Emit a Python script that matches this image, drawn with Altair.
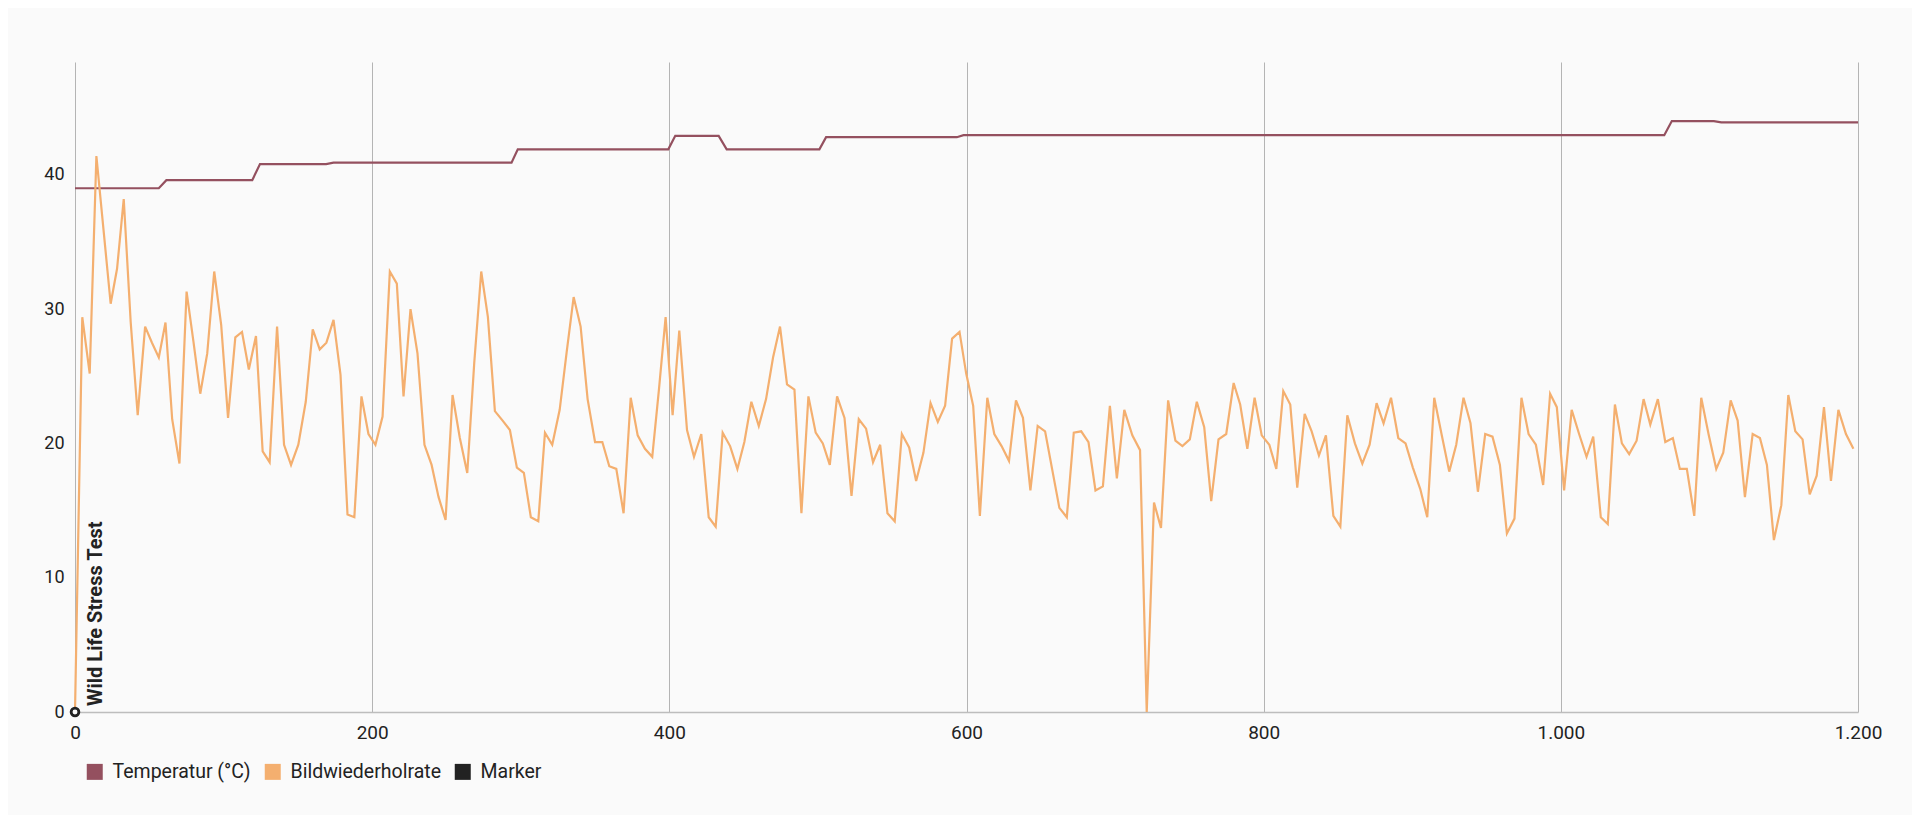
import altair as alt
import pandas as pd

# ---- data ----
fps_x = [0, 4.9, 9.9, 14.4, 19.2, 24.0, 28.3, 32.8, 37.5, 42.2, 47.2, 51.8, 56.4, 60.9, 65.4, 70.3, 75.1, 79.7,
         84.3, 89.0, 93.7, 98.4, 103.0, 107.9, 112.4, 117.0, 121.8, 126.3, 131.0, 136.0, 140.7, 145.4, 150.3,
         155.3, 160.0, 164.7, 169.2, 174.0, 178.7, 183.4, 188.0, 192.8, 197.5, 202.2,
         207.0, 211.9, 216.6, 221.1, 225.8, 230.5, 235.2, 240.0, 244.7, 249.4, 254.1, 259.0, 264.0, 268.7,
         273.4, 277.9, 282.6, 287.8, 292.7, 297.4, 302.1, 306.8, 311.8, 316.3, 321.2, 326.2, 330.9, 335.6,
         340.3, 345.0, 350.0, 354.9, 359.6, 364.3, 369.2, 374.0, 378.7, 383.6, 388.5, 393.0, 397.5, 402.2, 406.7,
         411.9, 416.6, 421.5, 426.5, 431.2, 435.9, 440.9, 445.8, 450.5, 455.2, 460.2, 465.1, 469.8, 474.5,
         479.2, 484.2, 488.9, 493.6, 498.5, 503.3, 508.0, 512.9, 517.9, 522.6, 527.5, 532.4, 537.1, 541.9,
         546.8, 551.7, 556.5, 561.4, 566.1, 571.0, 575.8, 580.7, 585.6, 590.3, 595.3, 599.8, 604.5, 609.0,
         614.0, 618.7, 623.6, 628.6, 633.3, 638.0, 643.0, 647.9, 652.9, 657.6, 662.5, 667.5, 672.2, 677.2,
         682.1, 686.8, 691.8, 696.5, 701.2, 706.2, 711.6, 716.8, 721.3, 726.2, 730.9, 735.7, 740.6, 745.3,
         750.3, 755.0, 760.0, 764.7, 769.6, 774.8, 779.8, 784.2, 789.0, 793.9, 798.7, 803.8, 808.5,
         813.2, 817.9, 822.6, 827.6, 832.3, 837.2, 841.9, 846.9, 851.6, 856.3, 861.4, 866.4, 871.3, 876.0,
         880.7, 885.7, 890.6, 895.5, 900.4, 905.4, 910.1, 914.8, 919.7, 924.9, 929.6, 934.5, 939.2, 944.2,
         949.1, 954.0, 959.0, 963.7, 968.8, 973.5, 978.3, 983.2, 988.1, 992.8, 997.3, 1002.2,
         1007.3, 1012.3, 1017.3, 1021.8, 1026.9, 1031.6, 1036.4, 1041.1, 1046.0, 1051.0, 1055.7, 1060.2,
         1065.3, 1070.3, 1075.4, 1080.1, 1084.8, 1089.8, 1094.5, 1099.4, 1104.6, 1109.3, 1114.3, 1119.0,
         1123.9, 1129.1, 1134.0, 1138.7, 1143.4, 1148.4, 1153.1, 1157.8, 1162.7, 1167.5, 1172.2, 1177.1,
         1181.8, 1186.8, 1191.9, 1196.9]

fps_y = [0, 29.4, 25.2, 41.4, 35.9, 30.4, 33.0, 38.2, 29.0, 22.1, 28.7, 27.5, 26.4, 29.0, 21.8, 18.5, 31.3, 27.6,
         23.7, 26.7, 32.8, 28.8, 21.9, 27.9, 28.3, 25.5, 28.0, 19.4, 18.6, 28.7, 19.9, 18.4, 19.9,
         23.1, 28.5, 27.0, 27.5, 29.2, 25.1, 14.7, 14.5, 23.5, 20.7, 19.9,
         22.0, 32.8, 31.9, 23.5, 30.0, 26.7, 19.9, 18.4, 16.0, 14.3, 23.6, 20.4, 17.8, 26.0,
         32.8, 29.4, 22.4, 21.7, 21.0, 18.2, 17.8, 14.5, 14.2, 20.8, 19.9, 22.5, 26.8, 30.9,
         28.7, 23.3, 20.1, 20.1, 18.3, 18.1, 14.8, 23.4, 20.6, 19.6, 19.0, 24.0, 29.4, 22.1, 28.4,
         21.0, 19.0, 20.7, 14.5, 13.8, 20.8, 19.8, 18.1, 20.1, 23.1, 21.3, 23.3, 26.4, 28.7,
         24.4, 24.0, 14.8, 23.5, 20.8, 20.0, 18.4, 23.5, 21.9, 16.1, 21.8, 21.1, 18.6, 19.9,
         14.8, 14.2, 20.7, 19.7, 17.2, 19.3, 23.0, 21.6, 22.8, 27.8, 28.3, 25.2, 22.8, 14.6,
         23.4, 20.7, 19.8, 18.7, 23.2, 21.9, 16.5, 21.3, 20.9, 18.1, 15.2, 14.5, 20.8, 20.9,
         20.1, 16.5, 16.8, 22.8, 17.4, 22.5, 20.6, 19.5, 0, 15.6, 13.7, 23.2, 20.2, 19.8,
         20.3, 23.1, 21.2, 15.7, 20.3, 20.7, 24.5, 22.9, 19.6, 23.4, 20.6, 19.9, 18.1,
         23.9, 22.9, 16.7, 22.2, 20.9, 19.1, 20.6, 14.6, 13.8, 22.1, 20.0, 18.5, 19.9, 23.0,
         21.5, 23.4, 20.4, 20.0, 18.2, 16.6, 14.5, 23.4, 20.7, 17.9, 19.9, 23.4, 21.5, 16.4,
         20.7, 20.5, 18.4, 13.3, 14.4, 23.4, 20.7, 19.9, 16.9, 23.7, 22.7, 16.5,
         22.5, 20.7, 19.0, 20.5, 14.5, 14.0, 22.9, 20.0, 19.2, 20.2, 23.3, 21.4,
         23.3, 20.1, 20.4, 18.1, 18.1, 14.6, 23.4, 20.7, 18.1, 19.3, 23.2, 21.7,
         16.0, 20.7, 20.4, 18.4, 12.8, 15.4, 23.6, 20.9, 20.3, 16.2, 17.6, 22.7,
         17.2, 22.5, 20.7, 19.6]

temp_x = [0, 56.4, 61.5, 119.3, 124.5, 169.0, 174.0, 293.8, 298.0, 399.3, 404.0, 433.2, 438.6, 501.0, 505.5,
          593.5, 598.0, 1069.6, 1074.7, 1103.0, 1108.0, 1200.0]
temp_y = [39.0, 39.0, 39.6, 39.6, 40.8, 40.8, 40.9, 40.9, 41.9, 41.9, 42.9, 42.9, 41.9, 41.9, 42.8,
          42.8, 42.95, 42.95, 44.0, 44.0, 43.9, 43.9]

marker_x = [0]
marker_y = [0]
marker_label = ["Wild Life Stress Test"]

series_names = ["Temperatur (°C)", "Bildwiederholrate", "Marker"]
series_colors = ["#94505F", "#F4AF6F", "#222222"]
x_ticks = [0, 200, 400, 600, 800, 1000, 1200]
y_ticks = [0, 10, 20, 30, 40]

temp_df = pd.DataFrame({"x": temp_x, "y": temp_y, "series": series_names[0]})
fps_df = pd.DataFrame({"x": fps_x, "y": fps_y, "series": series_names[1]})
marker_df = pd.DataFrame({"x": marker_x, "y": marker_y, "label": marker_label, "series": series_names[2]})

FONT = "Roboto"

x_enc = alt.X("x:Q", scale=alt.Scale(domain=[0, 1200], nice=False),
              axis=alt.Axis(values=x_ticks, title=None, grid=True, gridColor="#b4b4b4", gridWidth=1,
                            domain=True, domainColor="#bdbdbd", domainWidth=1.5, ticks=False,
                            labelFlush=False, labelOverlap=False,
                            labelPadding=11, labelFontSize=19, labelColor="#222222", labelFont=FONT,
                            labelExpr="replace(format(datum.value, ','), ',', '.')"))
y_enc = alt.Y("y:Q", scale=alt.Scale(domain=[0, 48.4], nice=False),
              axis=alt.Axis(values=y_ticks, title=None, grid=False, domain=False, ticks=False,
                            labelFlush=False,
                            labelPadding=11, labelFontSize=18, labelColor="#222222", labelFont=FONT))
color_enc = alt.Color("series:N",
                      scale=alt.Scale(domain=series_names, range=series_colors),
                      legend=alt.Legend(title=None, orient="none", legendX=10, legendY=700,
                                        direction="horizontal", symbolType="square", symbolSize=64,
                                        symbolStrokeWidth=8, labelFontSize=19.5, labelFont=FONT,
                                        labelColor="#222222", labelOffset=8, columnPadding=1,
                                        padding=0))

temp_line = alt.Chart(temp_df).mark_line(strokeWidth=2.2).encode(x=x_enc, y=y_enc, color=color_enc)
fps_line = alt.Chart(fps_df).mark_line(strokeWidth=2.2).encode(x=x_enc, y=y_enc, color=color_enc)
marker_pt = alt.Chart(marker_df).mark_point(shape="circle", filled=False, fill="#fafafa", size=60,
                                            strokeWidth=2.8, opacity=1).encode(x=x_enc, y=y_enc, color=color_enc)
marker_txt = alt.Chart(marker_df).mark_text(angle=270, align="left", baseline="middle", dx=6, dy=21,
                                            font=FONT, fontSize=20, fontWeight="bold",
                                            color="#222222").encode(x=x_enc, y=y_enc, text="label:N")

chart = (alt.layer(temp_line, fps_line, marker_pt, marker_txt)
         .properties(width=1783, height=650,
                     autosize=alt.AutoSizeParams(type="none"),
                     padding={"left": 67, "top": 54, "right": 54, "bottom": 103},
                     background="#fafafa")
         .configure_view(stroke=None))

chart.save("out.html", embed_options={"renderer": "svg", "actions": False})
